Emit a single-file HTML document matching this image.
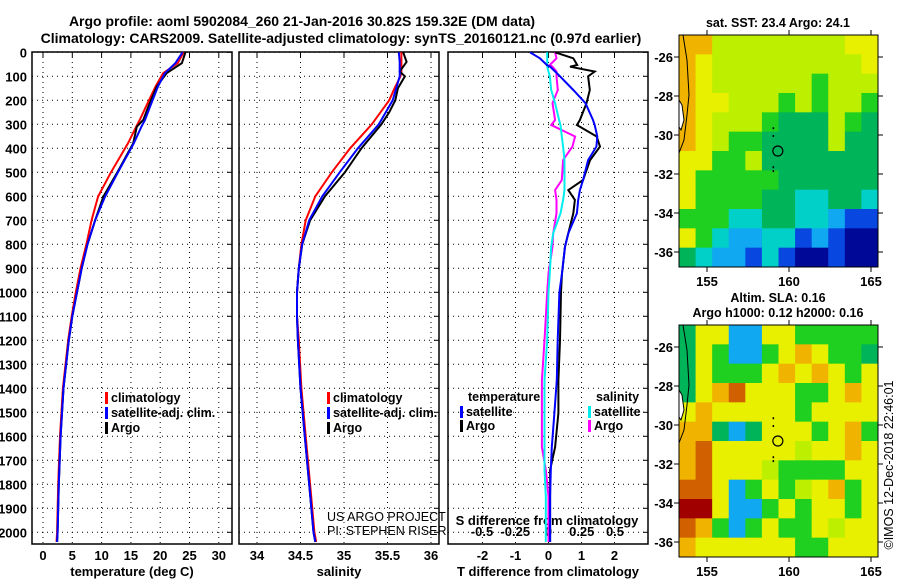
<!DOCTYPE html>
<html><head><meta charset="utf-8"><style>
body{margin:0;background:#fff;}
svg{display:block;font-family:"Liberation Sans",sans-serif;}
.b{font-weight:bold;}
</style></head><body>
<svg id="chart" width="900" height="580" viewBox="0 0 900 580" xmlns="http://www.w3.org/2000/svg">
<text x="302" y="26" text-anchor="middle" class="b" font-size="14">Argo profile: aoml 5902084_260 21-Jan-2016 30.82S 159.32E (DM data)</text>
<text x="341" y="43" text-anchor="middle" class="b" font-size="14">Climatology: CARS2009. Satellite-adjusted climatology: synTS_20160121.nc (0.97d earlier)</text>
<g id="g"></g>
</svg>
<script>
// ---------- data ----------
const tDepth = [0,45,87,143,225,282,310,379,504,601,699,800,900,1000,1100,1200,1400,1600,1800,2000,2040];
const tArgo  = [24.3,23.7,21.1,19.4,18.0,17.1,16.0,15.4,12.6,10.3,8.9,7.6,6.6,5.8,5.0,4.4,3.5,3.0,2.7,2.5,2.4];
const tClim  = [24.0,23.0,20.5,19.2,17.6,16.5,15.9,14.5,11.5,9.4,8.3,7.4,6.4,5.6,4.9,4.3,3.4,2.9,2.6,2.4,2.3];
const tSat   = [23.8,22.6,20.8,19.6,18.3,17.4,16.8,15.5,12.7,10.6,8.9,7.6,6.6,5.8,5.0,4.4,3.5,3.0,2.7,2.5,2.4];
const sDepth = [0,40,80,100,150,200,250,300,400,500,600,700,800,900,1000,1100,1200,1400,1600,1800,2000,2040];
const sArgo  = [35.68,35.72,35.64,35.70,35.62,35.59,35.52,35.43,35.20,35.01,34.78,34.61,34.52,34.48,34.46,34.46,34.47,34.50,34.55,34.60,34.65,34.67];
const sClim  = [35.66,35.66,35.66,35.65,35.58,35.52,35.42,35.32,35.07,34.86,34.67,34.56,34.51,34.48,34.46,34.46,34.48,34.51,34.56,34.61,34.66,34.68];
const sSat   = [35.63,35.64,35.64,35.64,35.60,35.56,35.48,35.40,35.16,34.95,34.75,34.60,34.52,34.48,34.46,34.46,34.47,34.50,34.55,34.60,34.65,34.67];
const dDepth = [0,25,53,60,80,100,157,212,282,303,351,393,449,532,574,615,671,754,810,921,1000,1200,1366,1503,1645,1740,1850,2040];
const dTArgo = [0.2,0.75,0.87,0.65,1.4,1.2,1.25,1.15,0.95,0.86,1.46,1.56,1.26,1.05,0.6,0.8,0.75,0.6,0.5,0.41,0.38,0.35,0.3,0.3,0.2,0.05,0.05,0.05];
const dTSat  = [-0.56,-0.26,-0.05,0.05,0.2,0.35,0.75,1.12,1.35,1.4,1.48,1.45,1.2,1.05,0.95,0.9,0.86,0.6,0.5,0.41,0.33,0.28,0.25,0.18,0.1,0.07,0.05,0.05];
const dSSat  = [-0.01,-0.01,-0.01,-0.01,0.0,0.01,0.02,0.05,0.08,0.09,0.10,0.11,0.12,0.12,0.12,0.11,0.09,0.035,0.02,0.01,0.0,-0.01,-0.03,-0.03,-0.03,-0.03,-0.02,-0.02];
const dSArgo = [0.05,0.06,0.01,0.03,0.06,0.06,0.07,0.03,0.05,0.02,0.2,0.18,0.11,0.1,0.05,0.06,0.06,0.035,0.03,0.0,-0.01,-0.03,-0.05,-0.05,-0.05,-0.02,0.0,0.0];
const depthTicks = [0,100,200,300,400,500,600,700,800,900,1000,1100,1200,1300,1400,1500,1600,1700,1800,1900,2000];
const tTicks = [0,5,10,15,20,25,30];
const sTicks = [34,34.5,35,35.5,36];
const dTTicks = [-2,-1,0,1,2];
const dSTicks = [-0.5,-0.25,0,0.25,0.5];
const lonTicks = [155,160,165];
const latTicks = [-26,-28,-30,-32,-34,-36];
const sstGrid = ["OOLLLLLLLLYY","OYLLLLLLLLLY","OYLLLLLLGLLL","OYYLLLGLGLLG","OYLLLGTTTLGT","OYLGGTTTTLTT","YYGGLTTTTTTT","YGGGGGTTTTTT","YGGGGTTCCTTC","GGGCCTTCCBDD","YGCBBCCDBDNN","TCBBDCDNNDNN"];
const slaGrid = ["TYYBBYYGGGGG","TYGBBGYOYGGT","TYGGGYOYOYGY","TYORYYYGGYOY","YOYYYYYGYYYY","OOTBTYYYGYOG","ORYYYYYLYYOY","ORYYYLGGGGYY","RRYBGYGLYOGY","DDYBBGYGYYGY","ROGBGYGGYLYY","OYYYYYYGGYYY"];
const argoLon = 159.32, argoLat = -30.82;
// ---------- helpers ----------
const NS="http://www.w3.org/2000/svg", G=document.getElementById('g');
function el(t,a,p){const e=document.createElementNS(NS,t);for(const k in a)e.setAttribute(k,a[k]);(p||G).appendChild(e);return e;}
const yD = d => 52.3 + 0.24*d;
const xT = v => 43 + 5.86*v;
const xS = v => 257 + 87*(v-34);
const xDT = v => 548.5 + 33*v;
const xDS = v => 548.5 + 133*v;
const panels=[{x0:32,x1:232,ticks:tTicks,fx:xT,title:"temperature (deg C)"},{x0:239,x1:439,ticks:sTicks,fx:xS,title:"salinity"},{x0:448,x1:648,ticks:dTTicks,fx:xDT,title:"T difference from climatology"}];
const Y0=52,Y1=544;
panels.forEach((p,i)=>{
  const pg=el('g',{});
  
  
  depthTicks.forEach(d=>{const l=el('line',{x1:p.x0,x2:p.x1,y1:yD(d),y2:yD(d),stroke:'#000','stroke-width':1,'stroke-dasharray':'1,4'},pg);
    
    el('line',{x1:p.x1-5,x2:p.x1,y1:yD(d),y2:yD(d),stroke:'#000'},pg);});
  p.ticks.forEach(t=>{const x=p.fx(t);
    const l=el('line',{x1:x,x2:x,y1:Y0,y2:Y1,stroke:'#000','stroke-width':1,'stroke-dasharray':'1,4'},pg);
    
    el('line',{x1:x,x2:x,y1:Y0,y2:Y0+5,stroke:'#000'},pg);
    const tx=el('text',{x:x,y:560,'text-anchor':'middle','font-size':13,'font-weight':'bold'},pg);tx.textContent=t;
    });
  const r=el('rect',{x:p.x0,y:Y0,width:p.x1-p.x0,height:Y1-Y0,fill:'none',stroke:'#000','stroke-width':1.5},pg);
  
  const at=el('text',{x:(p.x0+p.x1)/2,y:576,'text-anchor':'middle','font-size':13,'font-weight':'bold'},pg);at.textContent=p.title;
  
});
depthTicks.forEach(d=>{const t=el('text',{x:27,y:yD(d)+5,'text-anchor':'end','font-size':13,'font-weight':'bold'});t.textContent=d;
  });
dSTicks.forEach(s=>{const t=el('text',{x:xDS(s),y:536,'text-anchor':'middle','font-size':13,'font-weight':'bold'});t.textContent=s;
  });
{const t=el('text',{x:547,y:525,'text-anchor':'middle','font-size':13,'font-weight':'bold'});t.textContent='S difference from climatology';
 }
function line(xs,ds,fx,col,name){const pts=xs.map((v,i)=>fx(v).toFixed(1)+','+yD(ds[i]).toFixed(1)).join(' ');
  const l=el('polyline',{points:pts,fill:'none',stroke:col,'stroke-width':2});
  }
line(tClim,tDepth,xT,'#f00','temperature-climatology-line');
line(tArgo,tDepth,xT,'#000','temperature-argo-line');
line(tSat,tDepth,xT,'#00f','temperature-satellite-line');
line(sClim,sDepth,xS,'#f00','salinity-climatology-line');
line(sArgo,sDepth,xS,'#000','salinity-argo-line');
line(sSat,sDepth,xS,'#00f','salinity-satellite-line');
line(dSArgo,dDepth,xDS,'#f0f','s-diff-argo-line');
line(dSSat,dDepth,xDS,'#0ee','s-diff-satellite-line');
line(dTArgo,dDepth,xDT,'#000','t-diff-argo-line');
line(dTSat,dDepth,xDT,'#00f','t-diff-satellite-line');
function leg(x,y,col,txt,name){const g=el('g',{});
  if(col)el('rect',{x:x,y:y-10,width:3,height:12,fill:col},g);
  const t=el('text',{x:x+6,y:y,'font-size':12.5,'font-weight':'bold'},g);t.textContent=txt;}
leg(105,402,'#f00','climatology','legend-climatology');leg(105,417,'#00f','satellite-adj. clim.','legend-satellite');leg(105,432,'#000','Argo','legend-argo');
leg(327,402,'#f00','climatology','legend-climatology-2');leg(327,417,'#00f','satellite-adj. clim.','legend-satellite-2');leg(327,432,'#000','Argo','legend-argo-2');
leg(462,401,null,'temperature','legend-temperature-header');leg(460,416,'#00f','satellite','legend-t-satellite');leg(460,430,'#000','Argo','legend-t-argo');
leg(590,401,null,'salinity','legend-salinity-header');leg(588,416,'#0ee','satellite','legend-s-satellite');leg(588,430,'#f0f','Argo','legend-s-argo');
{const t=el('text',{x:327,y:521,'font-size':12.5});t.textContent='US ARGO PROJECT';
 const u=el('text',{x:327,y:535,'font-size':12.5});u.textContent='PI: STEPHEN RISER';}
// ---------- maps ----------
const pal={O:'#f0b400',Y:'#e8f000',L:'#bcf000',G:'#20d020',T:'#00b45a',C:'#00d0c8',B:'#10a8f0',D:'#0848e0',N:'#000898',R:'#d06000',X:'#a00000'};
function map(top,grid,name,titles){
  const x0=679,x1=878,y0=top,y1=top+232;
  const lx=v=>707+16.4*(v-155), ly=v=>top+22+19.5*(-26-v);
  const mg=el('g',{});
  const cw=(x1-x0)/12,ch=(y1-y0)/12;
  grid.forEach((row,r)=>[...row].forEach((c,k)=>{const cc=c==='D'&&name==='sla-map'?'X':c;
    el('rect',{x:x0+k*cw,y:y0+r*ch,width:cw+0.5,height:ch+0.5,fill:pal[cc]},mg);}));
  el('path',{d:`M${x0+4},${y0} L${x0+8},${y0+25} L${x0+10},${y0+60} L${x0+8},${y0+80} L${x0+5},${y0+105} L${x0},${y0+118}`,fill:'none',stroke:'#000','stroke-width':1},mg);
  el('path',{d:`M${x0},${y0+65} L${x0+3},${y0+70} L${x0+5},${y0+85} L${x0+2},${y0+95} L${x0},${y0+92}Z`,fill:'#fff',stroke:'#000','stroke-width':1},mg);
  const c=el('circle',{cx:lx(argoLon),cy:ly(argoLat),r:5,fill:'none',stroke:'#000','stroke-width':1.2},mg);
  
  [[-29.6],[-30.0],[-31.6],[-31.8]].forEach(([la])=>el('rect',{x:lx(159.0),y:ly(la),width:1.5,height:2,fill:'#000'},mg));
  el('rect',{x:x0,y:y0,width:x1-x0,height:y1-y0,fill:'none',stroke:'#000','stroke-width':1},mg);
  lonTicks.forEach(v=>{el('line',{x1:lx(v),x2:lx(v),y1:y1,y2:y1+5,stroke:'#000'},mg);el('line',{x1:lx(v),x2:lx(v),y1:y0-5,y2:y0,stroke:'#000'},mg);
    const t=el('text',{x:lx(v),y:y1+19,'text-anchor':'middle','font-size':13,'font-weight':'bold'},mg);t.textContent=v;
    });
  latTicks.forEach(v=>{el('line',{x1:x0-5,x2:x0,y1:ly(v),y2:ly(v),stroke:'#000'},mg);el('line',{x1:x1,x2:x1+5,y1:ly(v),y2:ly(v),stroke:'#000'},mg);
    const t=el('text',{x:x0-6,y:ly(v)+5,'text-anchor':'end','font-size':13,'font-weight':'bold'},mg);t.textContent=v;
    });
  titles.forEach((s,i)=>{const t=el('text',{x:778,y:top-8-(titles.length-1-i)*15,'text-anchor':'middle','font-size':12.5,'font-weight':'bold'});t.textContent=s;
    });
}
map(35,sstGrid,'sst-map',['sat. SST: 23.4 Argo: 24.1']);
map(325,slaGrid,'sla-map',['Altim. SLA: 0.16','Argo h1000: 0.12 h2000: 0.16']);
{const t=el('text',{x:0,y:0,'font-size':12.5,transform:'translate(893,465) rotate(-90)','text-anchor':'middle'});t.textContent='©IMOS 12-Dec-2018 22:46:01';
 }
</script>
</body></html>
